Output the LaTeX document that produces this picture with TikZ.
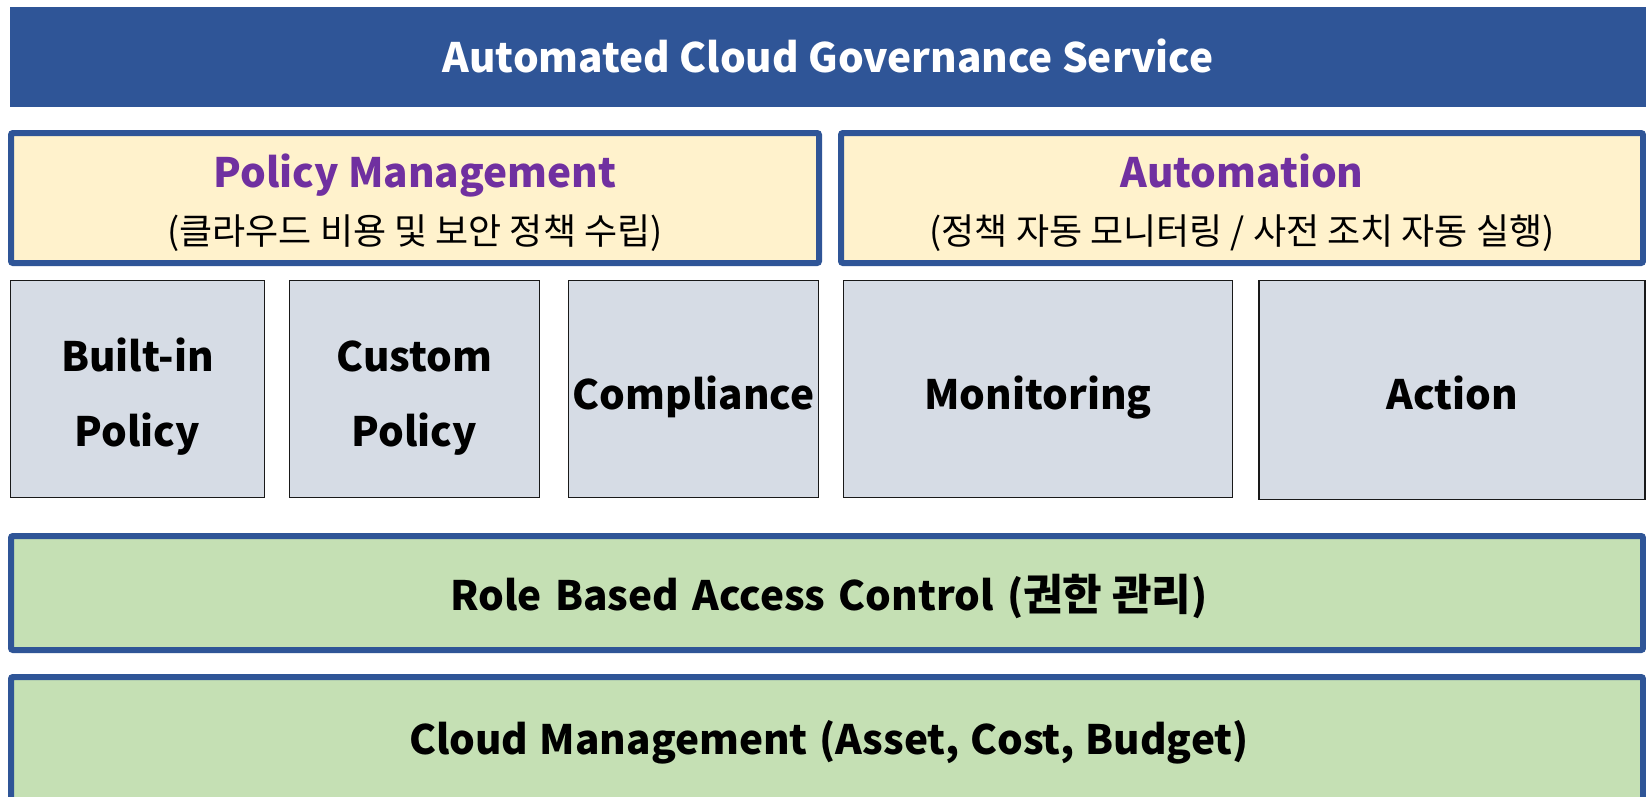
\documentclass[tikz,border=0pt]{standalone}
\usepackage{fontspec}
\setmainfont{Noto Sans CJK KR}
\newfontfamily\kr{Noto Sans CJK KR}
\definecolor{banner}{HTML}{2F5597}
\definecolor{yel}{HTML}{FFF2CC}
\definecolor{grey}{HTML}{D6DCE5}
\definecolor{grn}{HTML}{C5E0B4}
\definecolor{purp}{HTML}{7030A0}
\tikzset{
  box/.style={rectangle, inner sep=0pt, outer sep=0pt},
  bluebox/.style={box, draw=banner, line width=6pt, rounded corners=2pt},
  greybox/.style={box, draw=black!90, line width=1.8pt, fill=grey},
  lbl/.style={anchor=base, inner sep=0pt, font=\fontsize{40.5}{44}\selectfont\bfseries},
  sub/.style={anchor=base, inner sep=0pt, font=\fontsize{36}{40}\selectfont\kr},
}
\begin{document}
\begin{tikzpicture}[x=1pt,y=-1pt]
\useasboundingbox (0,0) rectangle (1646,796);
\fill[white] (0,0) rectangle (1646,796);
% banner
\node[box, fill=banner, minimum width=1640pt, minimum height=100pt] (ban) at (830,57) {};
\node[lbl, text=white] (bant) at (828,72) {Automated Cloud Governance Service};
% policy / automation
\node[bluebox, fill=yel, minimum width=808pt, minimum height=130pt] (pol) at (415,198) {};
\node[lbl, text=purp] (polt) at (415,187) {Policy Management};
\node[sub] (pols) at (415,244) {(클라우드 비용 및 보안 정책 수립)};
\node[bluebox, fill=yel, minimum width=802pt, minimum height=130pt] (aut) at (1242,198) {};
\node[lbl, text=purp] (autt) at (1242,187) {Automation};
\node[sub] (auts) at (1242,244) {(정책 자동 모니터링 / 사전 조치 자동 실행)};
% grey boxes
\node[greybox, minimum width=254pt, minimum height=217pt] (bi) at (137.5,389) {};
\node[lbl] (bi1) at (137.5,371) {Built-in};
\node[lbl] (bi2) at (137.5,446) {Policy};
\node[greybox, minimum width=250pt, minimum height=217pt] (cu) at (414.5,389) {};
\node[lbl] (cu1) at (414.5,371) {Custom};
\node[lbl] (cu2) at (414.5,446) {Policy};
\node[greybox, minimum width=250pt, minimum height=217pt] (co) at (693.5,389) {};
\node[lbl] (cot) at (693.5,409) {Compliance};
\node[greybox, minimum width=389pt, minimum height=217pt] (mo) at (1038,389) {};
\node[lbl] (mot) at (1038,409) {Monitoring};
\node[greybox, minimum width=386pt, minimum height=219pt] (ac) at (1452,390) {};
\node[lbl] (act) at (1452,409) {Action};
% green boxes
\node[bluebox, fill=grn, minimum width=1632pt, minimum height=114pt] (rb) at (827,593) {};
\node[lbl] (rbt) at (829,610) {Role\hspace{4pt} Based\hspace{4pt} Access\hspace{4pt} Control\hspace{4pt} ({\fontsize{43}{46}\selectfont 권한 관리})};
\node[bluebox, fill=grn, minimum width=1632pt, minimum height=130pt] (cm) at (827,742) {};
\node[lbl] (cmt) at (829,754) {Cloud\hspace{2pt} Management\hspace{2pt} (Asset,\hspace{2pt} Cost,\hspace{2pt} Budget)};
\end{tikzpicture}
\end{document}
